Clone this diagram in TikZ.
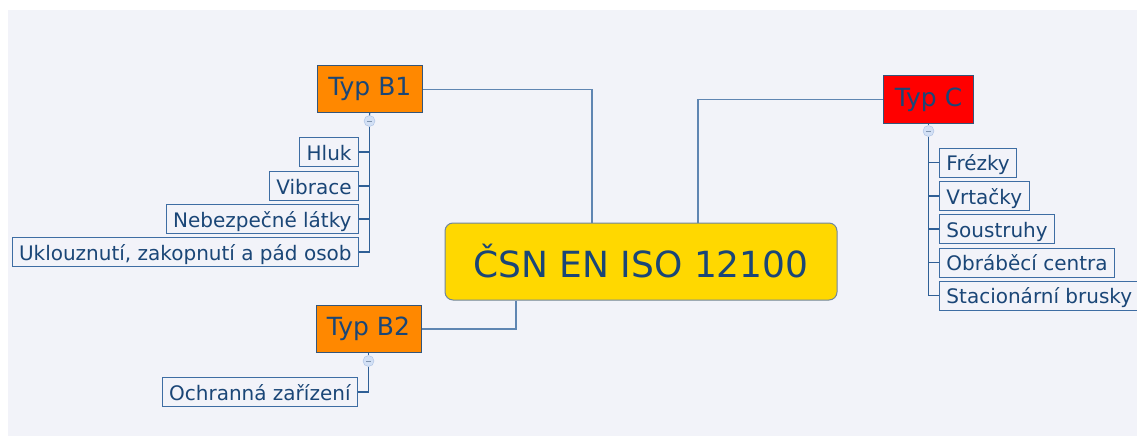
\documentclass[tikz,border=0pt]{standalone}
\usepackage{fontspec}
\setmainfont{DejaVu Sans}
\definecolor{mapbg}{HTML}{F2F3F9}
\definecolor{ink}{HTML}{1A4677}
\definecolor{coreyellow}{HTML}{FFD800}
\definecolor{coreline}{HTML}{6F86A0}
\definecolor{typeorange}{HTML}{FF8800}
\definecolor{typered}{HTML}{FF0000}
\definecolor{topicline}{HTML}{34557A}
\definecolor{leafline}{HTML}{3E6DA3}
\definecolor{branchline}{HTML}{5F86B2}
\definecolor{twigline}{HTML}{2F5F96}
\definecolor{foldfill}{HTML}{D3E0F5}
\definecolor{foldline}{HTML}{A9C0E4}
\definecolor{foldminus}{HTML}{7F93AE}

\begin{document}
\begin{tikzpicture}[x=1pt,y=-1pt,
  core/.style={draw=coreline,line width=1pt,fill=coreyellow,rounded corners=8pt,text=ink,
    minimum width=392pt,minimum height=77pt,font=\fontsize{36}{42}\selectfont},
  topic/.style={draw=topicline,line width=1pt,text=ink,minimum height=47pt,
    font=\fontsize{25}{30}\selectfont},
  leaf/.style={draw=leafline,line width=0.9pt,text=ink,minimum height=29pt,inner xsep=7pt,
    inner ysep=0pt,text height=17pt,text depth=1pt,font=\fontsize{20}{24}\selectfont},
  fold/.style={circle,draw=foldline,fill=foldfill,inner sep=0pt,minimum size=11pt,
    path picture={\draw[foldminus,line width=0.8pt]
      ([xshift=-2.5pt]path picture bounding box.center) -- ([xshift=2.5pt]path picture bounding box.center);}},
  branch/.style={draw=branchline,line width=1.4pt},
  twig/.style={draw=twigline,line width=1.1pt}]
  \useasboundingbox (0,0) rectangle (1137,436);
  \fill[mapbg] (8,10) rectangle (1137,436);

  % centre and main topics
  \node[core] (core) at (641,261.5) {ČSN EN ISO 12100};
  \node[topic,fill=typeorange,minimum width=105pt] (b1) at (369.8,89.2) {Typ B1};
  \node[topic,fill=typeorange,minimum width=105pt] (b2) at (368.5,329) {Typ B2};
  \node[topic,fill=typered,minimum width=90pt,minimum height=48pt] (c) at (928.5,99.5) {Typ C};

  \draw[branch] (b1.east) -| ([xshift=-49pt]core.north);
  \draw[branch] ([xshift=57pt]core.north) |- (c.west);
  \draw[branch] ([xshift=-125pt]core.south) |- (b2.east);

  % Typ B1
  \node[fold] (b1f) at (369.5,121) {};
  \node[leaf,anchor=east] (hl) at (359,152) {Hluk};
  \node[leaf,anchor=east] (vi) at (359,186) {Vibrace};
  \node[leaf,anchor=east] (ne) at (359,219) {Nebezpečné látky};
  \node[leaf,anchor=east] (uk) at (359,252) {Uklouznutí, zakopnutí a pád osob};
  \draw[twig] (b1.south) -- (b1f.north);
  \draw[twig] (b1f.south) |- (uk.east);
  \foreach \n in {hl,vi,ne}
    \draw[twig] (\n.east) -- (\n.east -| b1f.south);

  % Typ B2
  \node[fold] (b2f) at (368.5,361) {};
  \node[leaf,anchor=east] (oz) at (358,392) {Ochranná zařízení};
  \draw[twig] (b2.south) -- (b2f.north);
  \draw[twig] (b2f.south) |- (oz.east);

  % Typ C
  \node[fold] (cf) at (928.5,131) {};
  \node[leaf,anchor=west] (fr) at (939,162.5) {Frézky};
  \node[leaf,anchor=west] (vr) at (939,196) {Vrtačky};
  \node[leaf,anchor=west] (so) at (939,229) {Soustruhy};
  \node[leaf,anchor=west] (ob) at (939,262.5) {Obráběcí centra};
  \node[leaf,anchor=west] (st) at (939,295.5) {Stacionární brusky};
  \draw[twig] (c.south) -- (cf.north);
  \draw[twig] (cf.south) |- (st.west);
  \foreach \n in {fr,vr,so,ob}
    \draw[twig] (\n.west) -- (\n.west -| cf.south);
\end{tikzpicture}
\end{document}
